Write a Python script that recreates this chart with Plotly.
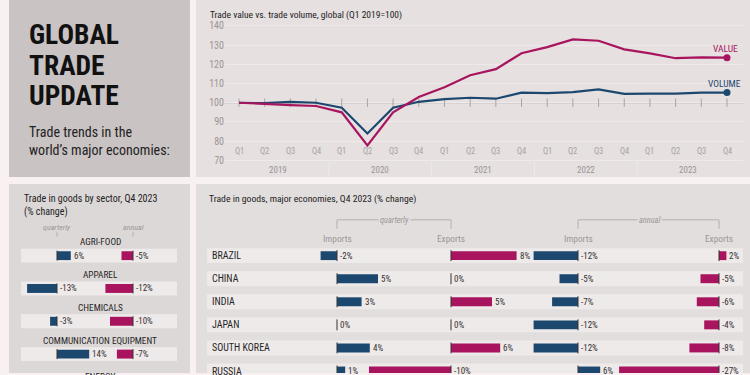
import plotly.graph_objects as go

W, H = 750, 375
def px(x): return x / W
def py(y): return 1 - y / H

# ---------------- DATA ----------------
quarter_labels = ["Q1", "Q2", "Q3", "Q4"] * 5
year_labels = ["2019", "2020", "2021", "2022", "2023"]
BASE = 100
trade_value = [100, 99.3, 98.8, 98.3, 95.0, 77.8, 95.0, 103.0, 108.1, 114.3,
               117.5, 125.8, 129.0, 133.0, 132.3, 127.8, 125.7, 123.2, 123.6, 123.5]
trade_volume = [100, 99.8, 100.5, 100.0, 97.4, 84.0, 97.4, 100.5, 101.9, 102.6,
                102.1, 105.3, 105.0, 105.5, 107.0, 104.6, 104.7, 104.8, 105.3, 105.3]

sectors = ["AGRI-FOOD", "APPAREL", "CHEMICALS", "COMMUNICATION EQUIPMENT"]
sector_quarterly = [6, -13, -3, 14]
sector_annual = [-5, -12, -10, -7]
next_sector = "ENERGY"

countries = ["BRAZIL", "CHINA", "INDIA", "JAPAN", "SOUTH KOREA", "RUSSIA"]
q_imports = [-2, 5, 3, 0, 4, 1]
q_exports = [8, 0, 5, 0, 6, -10]
a_imports = [-12, -5, -7, -12, -12, 6]
a_exports = [2, -5, -6, -4, -8, -27]

# ---------------- STYLE ----------------
PINK = "#a8155e"
BLUE = "#1c4870"
PAGE = "#f9f1f1"
P_TL = "#c9c3c3"
P_TR = "#e6e0e1"
P_BL = "#ddd8d8"
P_BR = "#e3dede"
ROW = "#efeaea"
GREY_TXT = "#9b9595"
DARK = "#262626"
FONT = "Roboto Condensed, Liberation Sans Narrow, DejaVu Sans Condensed, Roboto, sans-serif"

fig = go.Figure()
shapes = []
ann = []

def rect(x0, y0, x1, y1, color):
    shapes.append(dict(type="rect", xref="paper", yref="paper", x0=px(x0), x1=px(x1),
                       y0=py(y1), y1=py(y0), fillcolor=color, line_width=0, layer="below"))

def line(x0, y0, x1, y1, color, w=1):
    shapes.append(dict(type="line", xref="paper", yref="paper", x0=px(x0), x1=px(x1),
                       y0=py(y0), y1=py(y1), line=dict(color=color, width=w), layer="below"))

def text(x, y, s, size, color=DARK, xanchor="left", bold=False, bg=None, italic=False):
    if bold:
        s = "<b>" + s + "</b>"
    if italic:
        s = "<i>" + s + "</i>"
    d = dict(x=px(x), y=py(y), xref="paper", yref="paper", text=s, showarrow=False,
             xanchor=xanchor, yanchor="middle", font=dict(family=FONT, size=size, color=color))
    if bg:
        d["bgcolor"] = bg
        d["borderpad"] = 1
    ann.append(d)

# panels
rect(9, 0, 190, 178, P_TL)
rect(196, 0, 750, 178, P_TR)
rect(9, 185, 190, 375, P_BL)
rect(196, 185, 750, 375, P_BR)

# ---------------- TOP LEFT ----------------
text(27, 35, "GLOBAL", 27.5, "#111111", bold=True)
text(27, 66, "TRADE", 27.5, "#111111", bold=True)
text(27, 96, "UPDATE", 27.5, "#111111", bold=True)
text(27, 133, "Trade trends in the", 14, "#222222")
text(27, 151, "world\u2019s major economies:", 14, "#222222")

# ---------------- LINE CHART ----------------
S = 25.684
X0 = 239
xr = [(225 - X0) / S, (743 - X0) / S]
yk = 1.93
yr = [100 - (165 - 103.3) / yk, 100 + (103.3 - 20) / yk]
idx = list(range(len(trade_value)))

fig.add_trace(go.Scatter(x=idx, y=[BASE] * len(idx), mode="markers", xaxis="x", yaxis="y",
                         marker=dict(symbol="line-ns", size=6, line=dict(color="#a9a3a4", width=1)),
                         hoverinfo="skip"))
fig.add_trace(go.Scatter(x=idx, y=trade_volume, mode="lines", xaxis="x", yaxis="y",
                         line=dict(color=BLUE, width=2.2)))
fig.add_trace(go.Scatter(x=idx, y=trade_value, mode="lines", xaxis="x", yaxis="y",
                         line=dict(color=PINK, width=2.2)))
fig.add_trace(go.Scatter(x=[idx[-1], idx[-1]], y=[trade_value[-1], trade_volume[-1]], mode="markers",
                         xaxis="x", yaxis="y", marker=dict(size=7, color=[PINK, BLUE])))

shapes.append(dict(type="line", xref="x domain", yref="y", x0=0, x1=1, y0=BASE, y1=BASE,
                   line=dict(color="#aaa4a5", width=1), layer="below"))

text(208, 15, "Trade value vs. trade volume, global (Q1 2019=100)", 9.5, "#222222")
for i, q in enumerate(quarter_labels):
    ann.append(dict(x=i, y=py(152), xref="x", yref="paper", text=q, showarrow=False,
                    font=dict(family=FONT, size=8.5, color="#a8a2a2")))
for k, yl in enumerate(year_labels):
    ann.append(dict(x=4 * k + 1.5, y=py(170.5), xref="x", yref="paper", text=yl, showarrow=False,
                    font=dict(family=FONT, size=9, color=GREY_TXT)))
    if k > 0:
        shapes.append(dict(type="line", xref="x", yref="paper", x0=4 * k - 0.5, x1=4 * k - 0.5,
                           y0=py(177), y1=py(163), line=dict(color="#eee9ea", width=1), layer="below"))
ann.append(dict(x=idx[-1], y=trade_value[-1], xref="x", yref="y", text="VALUE", showarrow=False,
                xanchor="right", yanchor="middle", xshift=13, yshift=9,
                font=dict(family=FONT, size=9.5, color=PINK)))
ann.append(dict(x=idx[-1], y=trade_volume[-1], xref="x", yref="y", text="VOLUME", showarrow=False,
                xanchor="right", yanchor="middle", xshift=16, yshift=9,
                font=dict(family=FONT, size=9.5, color=BLUE)))

# ---------------- BOTTOM LEFT ----------------
s1 = 2.3
rowsp1 = 33.0
r0_1 = 257
text(22, 200, "Trade in goods by sector, Q4 2023", 10, "#222222")
text(22, 213.5, "(% change)", 10, "#222222")
text(57, 229, "quarterly", 8, GREY_TXT, xanchor="center", italic=True)
text(133, 229, "annual", 8, GREY_TXT, xanchor="center", italic=True)
line(57, 233, 57, 238, "#b5afaf")
line(133, 233, 133, 238, "#b5afaf")

for i, sname in enumerate(sectors):
    shapes.append(dict(type="rect", xref="paper", yref="y2", x0=px(21), x1=px(177),
                       y0=i - 7 / rowsp1, y1=i + 7 / rowsp1, fillcolor=ROW, line_width=0, layer="below"))
    ann.append(dict(x=px(100), y=i - 14 / rowsp1, xref="paper", yref="y2", text=sname, showarrow=False,
                    xanchor="center", yanchor="middle", font=dict(family=FONT, size=9.3, color=DARK)))
ann.append(dict(x=px(100), y=len(sectors) - 14 / rowsp1, xref="paper", yref="y2", text=next_sector,
                showarrow=False, xanchor="center", yanchor="middle", yshift=-3,
                font=dict(family=FONT, size=9.3, color=DARK)))

def bar_group(vals, xa, ya, color, bw, hh, yref):
    n = len(vals)
    yy = list(range(n))
    fig.add_trace(go.Bar(x=vals, y=yy, orientation="h", xaxis=xa, yaxis=ya, width=bw,
                         marker=dict(color=color, line_width=0), hoverinfo="skip"))
    zx, zy = [], []
    for i in yy:
        zx += [0, 0, None]
        zy += [i - hh, i + hh, None]
    fig.add_trace(go.Scatter(x=zx, y=zy, mode="lines", xaxis=xa, yaxis=ya,
                             line=dict(color="#333333", width=1), hoverinfo="skip"))
    for i, v in zip(yy, vals):
        ann.append(dict(x=max(v, 0), y=i, xref=xa, yref=yref, text=f"{v}%", showarrow=False,
                        xanchor="left", yanchor="middle", xshift=1,
                        font=dict(family=FONT, size=9, color="#333333")))

bar_group(sector_quarterly, "x2", "y2", BLUE, 9 / rowsp1, 5 / rowsp1, "y2")
bar_group(sector_annual, "x3", "y2", PINK, 9 / rowsp1, 5 / rowsp1, "y2")

# ---------------- BOTTOM RIGHT ----------------
rowsp2 = 23.2
text(207, 200, "Trade in goods, major economies, Q4 2023 (% change)", 9.7, "#222222")
for (a, b, lab, c) in [(337, 451, "quarterly", 394), (578, 719, "annual", 649)]:
    line(a, 221, b, 221, "#b5afaf")
    line(a, 221, a, 230, "#b5afaf")
    line(b, 221, b, 230, "#b5afaf")
    text(c, 221, lab, 8.3, GREY_TXT, xanchor="center", italic=True, bg=P_BR)
    text(a, 240, "Imports", 9.3, GREY_TXT, xanchor="center")
    text(b, 240, "Exports", 9.3, GREY_TXT, xanchor="center")

for i, cname in enumerate(countries):
    shapes.append(dict(type="rect", xref="paper", yref="y3", x0=px(207), x1=px(743),
                       y0=i - 7.5 / rowsp2, y1=i + 7.5 / rowsp2, fillcolor=ROW, line_width=0, layer="below"))
    ann.append(dict(x=px(210), y=i, xref="paper", yref="y3", text=cname, showarrow=False,
                    xanchor="left", yanchor="middle", font=dict(family=FONT, size=10, color=DARK)))

bar_group(q_imports, "x4", "y3", BLUE, 9 / rowsp2, 5.5 / rowsp2, "y3")
bar_group(q_exports, "x5", "y3", PINK, 9 / rowsp2, 5.5 / rowsp2, "y3")
bar_group(a_imports, "x6", "y3", BLUE, 9 / rowsp2, 5.5 / rowsp2, "y3")
bar_group(a_exports, "x7", "y3", PINK, 9 / rowsp2, 5.5 / rowsp2, "y3")

# ---------------- AXES ----------------
def hidden_x(dom0, dom1, zero, scale, anchor):
    return dict(domain=[px(dom0), px(dom1)], range=[(dom0 - zero) / scale, (dom1 - zero) / scale],
                visible=False, anchor=anchor, fixedrange=True)

layout_axes = dict(
    xaxis=dict(domain=[px(225), px(743)], range=xr, visible=False, anchor="y"),
    yaxis=dict(domain=[py(165), py(20)], range=yr, tickvals=list(range(70, 141, 10)),
               showgrid=True, gridcolor="#eee9ea", gridwidth=1, zeroline=False, ticks="",
               showline=False, anchor="x",
               tickfont=dict(family=FONT, size=10, color=GREY_TXT)),
    xaxis2=hidden_x(21, 177, 57, s1, "y2"),
    xaxis3=hidden_x(21, 177, 133, s1, "y2"),
    yaxis2=dict(domain=[0, py(240)], range=[(375 - r0_1) / rowsp1, (240 - r0_1) / rowsp1],
                visible=False, anchor="x2"),
    xaxis4=hidden_x(207, 743, 337, 8.2, "y3"),
    xaxis5=hidden_x(207, 743, 451, 8.2, "y3"),
    xaxis6=hidden_x(207, 743, 578, 3.7, "y3"),
    xaxis7=hidden_x(207, 743, 719, 3.7, "y3"),
    yaxis3=dict(domain=[0, py(243)], range=[(375 - 257) / rowsp2, (243 - 257) / rowsp2],
                visible=False, anchor="x4"),
)

fig.update_layout(
    width=W, height=H, margin=dict(l=0, r=0, t=0, b=0),
    paper_bgcolor=PAGE, plot_bgcolor="rgba(0,0,0,0)",
    showlegend=False, shapes=shapes, annotations=ann,
    font=dict(family=FONT), **layout_axes
)

fig.write_html("out.html", config={"displayModeBar": False},
               post_script="document.body.style.margin='0';document.body.style.padding='0';"
                           "document.body.style.overflow='hidden';")
